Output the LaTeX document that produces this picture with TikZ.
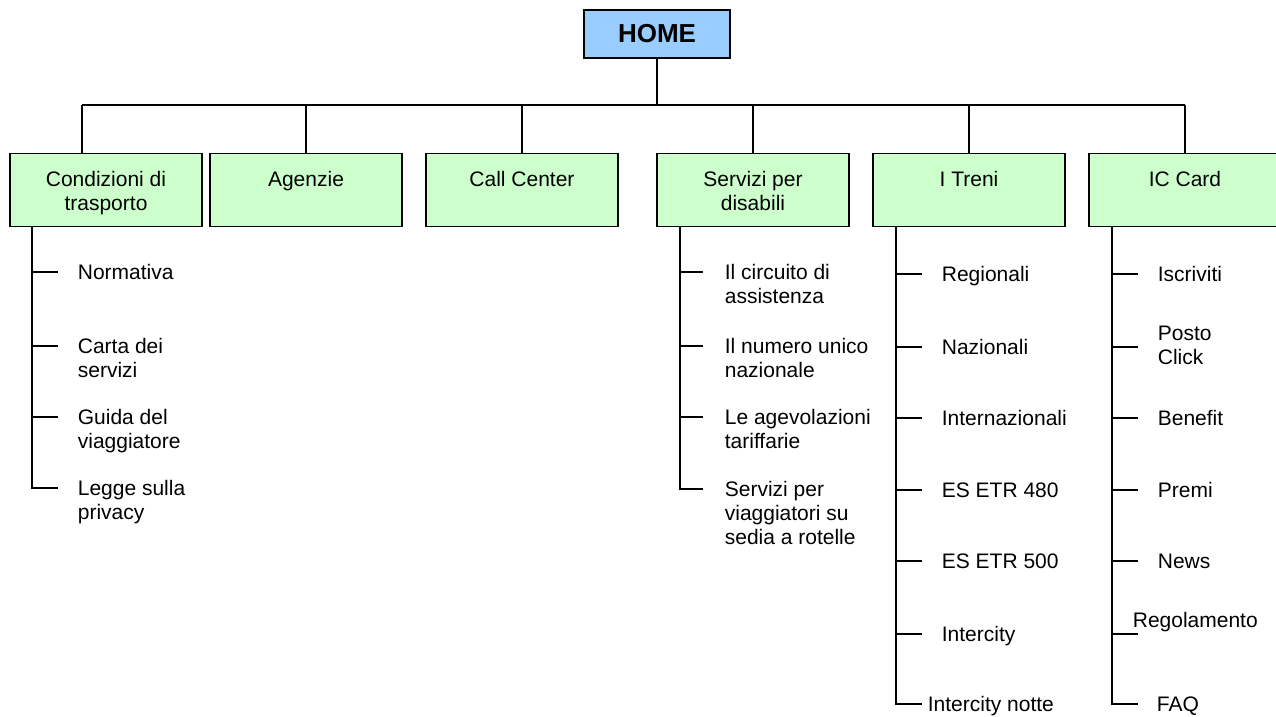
\documentclass[tikz,border=0pt]{standalone}
\usepackage{fontspec}
\setmainfont{Liberation Sans}
\definecolor{boxgreen}{HTML}{CCFFCC}
\definecolor{homeblue}{HTML}{99CCFF}
\begin{document}
\begin{tikzpicture}[x=1pt,y=-1pt,line width=1.7pt,
  sect/.style={draw=black,fill=boxgreen,minimum width=192pt,minimum height=73pt,inner sep=0pt,line width=1.7pt},
  homebox/.style={draw=black,fill=homeblue,minimum width=146pt,minimum height=48pt,inner sep=0pt,line width=1.7pt,font=\fontsize{26}{30}\selectfont\bfseries},
  btext/.style={anchor=base,align=center,inner sep=0pt,font=\fontsize{21}{24}\selectfont},
  leaf/.style={anchor=base west,align=left,inner sep=0pt,font=\fontsize{21}{24}\selectfont}]
\useasboundingbox (0,0) rectangle (1276,716);

% top
\node[homebox] (home) at (657,34) {HOME};
\coordinate (busy) at (0,105);

% section boxes
\node[sect] (cond) at (106,190) {};
\node[sect] (ag)   at (306,190) {};
\node[sect] (cc)   at (522,190) {};
\node[sect] (sd)   at (753,190) {};
\node[sect] (tr)   at (969,190) {};
\node[sect] (ic)   at (1185,190) {};

% (base of a multi-line node = baseline of its last line)
\node[btext] (condt) at (106,210.5) {Condizioni di\\trasporto};
\node[btext] (agt)   at (306,186.5) {Agenzie};
\node[btext] (cct)   at (522,186.5) {Call Center};
\node[btext] (sdt)   at (753,210.5) {Servizi per\\disabili};
\node[btext] (trt)   at (969,186.5) {I Treni};
\node[btext] (ict)   at (1185,186.5) {IC Card};

% bus
\coordinate (condtop) at ([xshift=-24pt]cond.north);
\draw (home.south) -- (home.south |- busy);
\draw (condtop |- busy) -- (ic.north |- busy);
\draw (condtop |- busy) -- (condtop);
\draw (ag.north |- busy) -- (ag.north);
\draw (cc.north |- busy) -- (cc.north);
\draw (sd.north |- busy) -- (sd.north);
\draw (tr.north |- busy) -- (tr.north);
\draw (ic.north |- busy) -- (ic.north);

% trunks
\coordinate (condtrunk) at ([xshift=23pt]cond.south west);
\coordinate (sdtrunk)   at ([xshift=24pt]sd.south west);
\coordinate (trtrunk)   at ([xshift=24pt]tr.south west);
\coordinate (ictrunk)   at ([xshift=24pt]ic.south west);

% Condizioni di trasporto
\coordinate (c1) at (58,272);
\coordinate (c2) at (58,346);
\coordinate (c3) at (58,417);
\coordinate (c4) at (58,488);
\node[leaf] (c1t) at (77,279.5) {Normativa};
\node[leaf] (c2t) at (77,377.5) {Carta dei\\servizi};
\node[leaf] (c3t) at (77,448.5) {Guida del\\viaggiatore};
\node[leaf] (c4t) at (77,519.5) {Legge sulla\\privacy};
\draw (condtrunk) |- (c4);
\foreach \c in {c1,c2,c3} \draw (\c -| condtrunk) -- (\c);

% Servizi per disabili
\coordinate (s1) at (703,272);
\coordinate (s2) at (703,346);
\coordinate (s3) at (703,417);
\coordinate (s4) at (703,489);
\node[leaf] (s1t) at (724,303.5) {Il circuito di\\assistenza};
\node[leaf] (s2t) at (724,377.5) {Il numero unico\\nazionale};
\node[leaf] (s3t) at (724,448.5) {Le agevolazioni\\tariffarie};
\node[leaf] (s4t) at (724,544) {Servizi per\\viaggiatori su\\sedia a rotelle};
\draw (sdtrunk) |- (s4);
\foreach \c in {s1,s2,s3} \draw (\c -| sdtrunk) -- (\c);

% I Treni
\coordinate (t1) at (922,274);
\coordinate (t2) at (922,347);
\coordinate (t3) at (922,418);
\coordinate (t4) at (922,490);
\coordinate (t5) at (922,561);
\coordinate (t6) at (922,634);
\coordinate (t7) at (922,704);
\node[leaf] (t1t) at (941,281.5) {Regionali};
\node[leaf] (t2t) at (941,354.5) {Nazionali};
\node[leaf] (t3t) at (941,425.5) {Internazionali};
\node[leaf] (t4t) at (941,497.5) {ES ETR 480};
\node[leaf] (t5t) at (941,568.5) {ES ETR 500};
\node[leaf] (t6t) at (941,641.5) {Intercity};
\node[leaf] (t7t) at (927,711.5) {Intercity notte};
\draw (trtrunk) |- (t7);
\foreach \c in {t1,t2,t3,t4,t5,t6} \draw (\c -| trtrunk) -- (\c);

% IC Card
\coordinate (i1) at (1138,274);
\coordinate (i2) at (1138,347);
\coordinate (i3) at (1138,418);
\coordinate (i4) at (1138,490);
\coordinate (i5) at (1138,561);
\coordinate (i6) at (1138,634);
\coordinate (i7) at (1138,704);
\node[leaf] (i1t) at (1157,281.5) {Iscriviti};
\node[leaf] (i2t) at (1157,364.5) {Posto\\Click};
\node[leaf] (i3t) at (1157,425.5) {Benefit};
\node[leaf] (i4t) at (1157,497.5) {Premi};
\node[leaf] (i5t) at (1157,568.5) {News};
\node[leaf] (i6t) at (1132,627.5) {Regolamento};
\node[leaf] (i7t) at (1156,711) {FAQ};
\draw (ictrunk) |- (i7);
\foreach \c in {i1,i2,i3,i4,i5,i6} \draw (\c -| ictrunk) -- (\c);
\end{tikzpicture}
\end{document}
